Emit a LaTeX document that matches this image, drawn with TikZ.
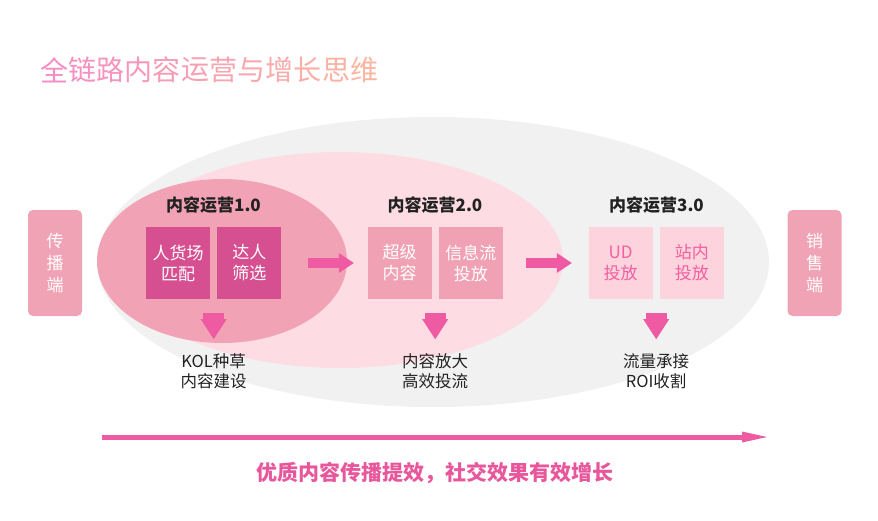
\documentclass[tikz,border=0pt]{standalone}
\usepackage{fontspec}
\setmainfont{Noto Sans CJK SC}
\usetikzlibrary{positioning,calc,arrows.meta}

\definecolor{greyell}{HTML}{F1F1F1}
\definecolor{lightell}{HTML}{FDDCE3}
\definecolor{darkell}{HTML}{F1A3B5}
\definecolor{boxone}{HTML}{D65091}
\definecolor{boxtwo}{HTML}{F0A1B4}
\definecolor{boxthree}{HTML}{FDD3DD}
\definecolor{textthree}{HTML}{F2609F}
\definecolor{sidepink}{HTML}{F0A3B4}
\definecolor{arrowpink}{HTML}{EE5BA3}
\definecolor{growpink}{HTML}{E8579C}
\definecolor{titleA}{HTML}{F68CC3}
\definecolor{titleB}{HTML}{FAB6A0}
\definecolor{darktext}{HTML}{222222}

\tikzset{
  sidebox/.style={fill=sidepink, rounded corners=5pt, minimum width=54pt,
    minimum height=106pt, text=white, align=center, inner sep=0pt,
    font=\fontsize{17}{22}\selectfont},
  stagetitle/.style={text=darktext, inner sep=0pt, font=\fontsize{17}{20}\selectfont\bfseries},
  opbox/.style={minimum width=64pt, minimum height=72pt, inner sep=0pt,
    align=center, font=\fontsize{17}{21}\selectfont},
  lbl/.style={text=darktext, align=center, inner sep=0pt, anchor=north,
    font=\fontsize{16.5}{20.5}\selectfont},
  titlech/.style={inner sep=0pt, font=\fontsize{28}{30}\selectfont},
  rarrow/.style={arrowpink, line width=10pt,
    -{Triangle[width=20pt,length=15pt,line width=0pt]}},
  darrow/.style={arrowpink, line width=21pt,
    -{Triangle[width=26pt,length=20pt,line width=0pt]}},
}

\begin{document}
\begin{tikzpicture}[x=1pt,y=-1pt]
  \useasboundingbox[fill=white] (0,0) rectangle (878,520);
  % title
  \foreach \ch [count=\i] in {全,链,路,内,容,运,营,与,增,长,思,维}{
    \pgfmathtruncatemacro\pct{100-(\i-1)*9}
    \node[titlech, text=titleA!\pct!titleB] (t\i) at ({25.9+28.2*\i},70) {\ch};
  }
  % ellipses
  \fill[greyell] (433,262) ellipse [x radius=336, y radius=145];
  \fill[lightell] (340,260) ellipse [x radius=223, y radius=108];
  \fill[darkell] (222,261) ellipse [x radius=125, y radius=82];
  % side boxes
  \node[sidebox] (src) at (55,263) {传\\播\\端};
  \node[sidebox] (sale) at (814.5,263) {销\\售\\端};
  % stage 1.0
  \node[opbox, fill=boxone, text=white] (b11) at (178,263) {人货场\\匹配};
  \node[opbox, fill=boxone, text=white, right=7pt of b11] (b12) {达人\\筛选};
  \node[stagetitle] (st1) at (213.5,205) {内容运营1.0};
  % stage 2.0
  \node[opbox, fill=boxtwo, text=white] (b21) at (399.5,263) {超级\\内容};
  \node[opbox, fill=boxtwo, text=white, right=7pt of b21] (b22) {信息流\\投放};
  \node[stagetitle] (st2) at (435,205) {内容运营2.0};
  % stage 3.0
  \node[opbox, fill=boxthree, text=textthree] (b31) at (620.5,263) {UD\\投放};
  \node[opbox, fill=boxthree, text=textthree, right=7pt of b31] (b32) {站内\\投放};
  \node[stagetitle] (st3) at (656.5,205) {内容运营3.0};
  % arrows between stages
  \draw[rarrow, shorten <=26pt, shorten >=13.5pt] (b12) -- (b21);
  \draw[rarrow, shorten <=22.5pt, shorten >=16.5pt] (b22) -- (b31);
  % results
  \coordinate (p1) at ($(b11.south)!.5!(b12.south)$);
  \coordinate (p2) at ($(b21.south)!.5!(b22.south)$);
  \coordinate (p3) at ($(b31.south)!.5!(b32.south)$);
  \node[lbl, below=54pt of p1] (l1) {KOL种草\\内容建设};
  \node[lbl, below=54pt of p2] (l2) {内容放大\\高效投流};
  \node[lbl, below=54pt of p3] (l3) {流量承接\\ROI收割};
  \draw[darrow, shorten <=14pt, shorten >=14pt] (p1) -- (l1);
  \draw[darrow, shorten <=14pt, shorten >=14pt] (p2) -- (l2);
  \draw[darrow, shorten <=14pt, shorten >=14pt] (p3) -- (l3);
  % growth arrow
  \coordinate (ga) at (102,437);
  \coordinate (gb) at (767,437);
  \draw[arrowpink, line width=5pt, -{Triangle[width=11pt,length=25pt,line width=0pt]}] (ga) -- (gb);
  \node[text=growpink, inner sep=0pt, font=\fontsize{21}{24}\selectfont\bfseries] (grow) at (435,473)
    {优质内容传播提效，社交效果有效增长};
\end{tikzpicture}
\end{document}
